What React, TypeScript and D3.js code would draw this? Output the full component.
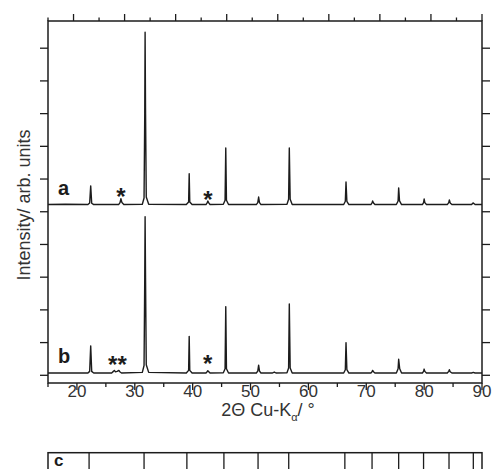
import * as d3 from "d3";

// --- data (2-theta in degrees, intensity in axis units) ---
const traceA: [number, number][] = [
  [15.0, 5.22], [18.0, 5.23], [21.9, 5.22],
  [22.2, 5.27], [22.38, 5.79], [22.55, 5.26], [22.9, 5.22],
  [27.2, 5.22], [27.45, 5.28], [27.6, 5.4], [27.78, 5.28], [28.1, 5.22],
  [31.3, 5.23], [31.6, 5.42], [31.72, 8.0], [31.78, 10.49], [31.85, 8.2], [31.98, 5.45], [32.4, 5.23],
  [38.9, 5.22], [39.3, 5.3], [39.4, 6.16], [39.5, 5.3], [39.9, 5.22],
  [42.3, 5.22], [42.5, 5.27], [42.62, 5.33], [42.78, 5.27], [43.0, 5.22],
  [45.3, 5.23], [45.6, 5.35], [45.72, 6.95], [45.84, 5.35], [46.2, 5.22],
  [51.0, 5.22], [51.25, 5.28], [51.4, 5.45], [51.55, 5.28], [51.8, 5.22],
  [56.3, 5.23], [56.58, 5.38], [56.7, 6.95], [56.85, 5.38], [57.2, 5.22],
  [66.1, 5.22], [66.38, 5.32], [66.5, 5.91], [66.65, 5.32], [67.0, 5.22],
  [70.8, 5.22], [71.0, 5.27], [71.1, 5.33], [71.25, 5.27], [71.5, 5.22],
  [75.2, 5.22], [75.5, 5.33], [75.6, 5.73], [75.75, 5.33], [76.1, 5.22],
  [79.7, 5.22], [79.9, 5.28], [80.0, 5.39], [80.12, 5.28], [80.4, 5.22],
  [84.0, 5.22], [84.25, 5.28], [84.36, 5.36], [84.5, 5.27], [84.8, 5.22],
  [88.2, 5.22], [88.45, 5.27], [88.6, 5.25], [88.8, 5.22],
  [90.0, 5.22],
];

const traceB: [number, number][] = [
  [15.0, 0.07], [21.9, 0.07],
  [22.2, 0.12], [22.38, 0.9], [22.55, 0.12], [22.9, 0.07],
  [26.0, 0.07], [26.3, 0.12], [26.45, 0.15], [26.65, 0.11], [26.95, 0.12], [27.25, 0.15], [27.4, 0.11], [27.7, 0.07],
  [31.3, 0.09], [31.6, 0.3], [31.72, 3.0], [31.78, 4.85], [31.85, 3.1], [31.98, 0.32], [32.4, 0.09],
  [38.9, 0.07], [39.3, 0.15], [39.4, 1.19], [39.5, 0.15], [39.9, 0.07],
  [42.3, 0.07], [42.5, 0.11], [42.62, 0.14], [42.78, 0.11], [43.0, 0.07],
  [45.3, 0.08], [45.6, 0.2], [45.72, 2.1], [45.84, 0.2], [46.2, 0.07],
  [51.0, 0.07], [51.25, 0.13], [51.4, 0.31], [51.55, 0.13], [51.8, 0.07],
  [53.8, 0.07], [54.1, 0.1], [54.4, 0.07],
  [56.3, 0.08], [56.58, 0.22], [56.7, 2.18], [56.85, 0.22], [57.2, 0.07],
  [66.1, 0.07], [66.38, 0.17], [66.5, 1.0], [66.65, 0.17], [67.0, 0.07],
  [70.8, 0.07], [71.0, 0.11], [71.1, 0.15], [71.25, 0.11], [71.5, 0.07],
  [75.2, 0.07], [75.5, 0.2], [75.6, 0.49], [75.78, 0.2], [76.1, 0.07],
  [79.7, 0.07], [79.9, 0.12], [80.0, 0.19], [80.12, 0.12], [80.4, 0.07],
  [84.0, 0.07], [84.25, 0.12], [84.36, 0.17], [84.5, 0.11], [84.8, 0.07],
  [88.2, 0.07], [88.5, 0.09], [88.8, 0.07],
  [90.0, 0.07],
];

// reference line positions for panel c
const refLines = [22.1, 31.6, 39.0, 45.4, 51.3, 56.6, 66.3, 71.0, 75.6, 79.9, 84.3, 88.5];

// annotations: [2theta, intensity-level, text]
const labelsA: [number, number, string][] = [[27.6, 5.3, "*"], [42.65, 5.2, "*"]];
const labelsB: [number, number, string][] = [[27.0, 0.15, "**"], [42.6, 0.2, "*"]];

const xMajor = [20, 30, 40, 50, 60, 70, 80, 90];
const xMinor = [15, 25, 35, 45, 55, 65, 75, 85];
const yTicks = [0, 1, 2, 3, 4, 5, 6, 7, 8, 9, 10];
const topTicks = d3.range(0, 18);

const FONT = "'Liberation Sans', Arial, sans-serif";
const INK = "#1c1c1c";

export default function App() {
  const W = 493, H = 469;
  const m = { left: 48, right: 482, top: 21, bottom: 383 };

  const x = d3.scaleLinear().domain([15, 90]).range([m.left, m.right]);
  const y = d3.scaleLinear().domain([0, 10]).range([375.3, 48.2]);
  const xTop = d3.scaleLinear().domain([0, 17]).range([m.left, m.right]);

  const line = d3.line<[number, number]>()
    .x(d => x(d[0]))
    .y(d => y(d[1]));

  const cTop = 452.7;

  return (
    <svg width={W} height={H} style={{ position: "absolute", left: 0, top: 0, background: "#fff" }}
      fontFamily={FONT}>
      {/* frame */}
      <rect x={m.left} y={m.top} width={m.right - m.left} height={m.bottom - m.top}
        fill="none" stroke={INK} strokeWidth={1.5} />

      {/* top ticks */}
      {topTicks.map(t => (
        <line key={"tt" + t} x1={xTop(t)} x2={xTop(t)} y1={m.top} y2={m.top - (t % 2 ? 7 : 3.5)}
          stroke={INK} strokeWidth={1.3} />
      ))}

      {/* left / right ticks */}
      {yTicks.map(t => (
        <g key={"yt" + t}>
          <line x1={m.left - 8} x2={m.left} y1={y(t)} y2={y(t)} stroke={INK} strokeWidth={1.3} />
          <line x1={m.right} x2={m.right + 8} y1={y(t)} y2={y(t)} stroke={INK} strokeWidth={1.3} />
        </g>
      ))}

      {/* bottom ticks + labels */}
      {xMinor.map(t => (
        <line key={"xm" + t} x1={x(t)} x2={x(t)} y1={m.bottom} y2={m.bottom + 4} stroke={INK} strokeWidth={1.3} />
      ))}
      {xMajor.map(t => (
        <g key={"xM" + t}>
          <line x1={x(t)} x2={x(t)} y1={m.bottom} y2={m.bottom + 7} stroke={INK} strokeWidth={1.3} />
          <text x={x(t)} y={397} textAnchor="middle" fontSize={17} fill="#333">{t}</text>
        </g>
      ))}

      {/* axis titles */}
      <text x={268} y={416} textAnchor="middle" fontSize={18} fill="#333">
        2Θ Cu-K<tspan fontSize={11} dy={5}>α</tspan><tspan dy={-5}>/ °</tspan>
      </text>
      <text transform={`translate(30,${205})rotate(-90)`} textAnchor="middle" fontSize={18} fill="#333">
        Intensity/ arb. units
      </text>

      {/* traces */}
      <path d={line(traceA) ?? ""} fill="none" stroke={INK} strokeWidth={1.4} strokeLinejoin="round" />
      <path d={line(traceB) ?? ""} fill="none" stroke={INK} strokeWidth={1.4} strokeLinejoin="round" />

      {/* trace letters and markers */}
      <text x={58} y={195} fontSize={20} fontWeight="bold" fill={INK}>a</text>
      <text x={58} y={363} fontSize={20} fontWeight="bold" fill={INK}>b</text>
      {labelsA.map(([p, v, s], i) => (
        <text key={"la" + i} x={x(p)} y={y(v) + 3} textAnchor="middle" fontSize={24} fontWeight="bold" fill={INK}>{s}</text>
      ))}
      {labelsB.map(([p, v, s], i) => (
        <text key={"lb" + i} x={x(p)} y={y(v) + 3} textAnchor="middle" fontSize={24} fontWeight="bold" fill={INK}>{s}</text>
      ))}

      {/* panel c */}
      <rect x={m.left} y={cTop} width={m.right - m.left} height={40} fill="none" stroke={INK} strokeWidth={1.5} />
      {refLines.map(p => (
        <line key={"rl" + p} x1={x(p)} x2={x(p)} y1={cTop} y2={H} stroke={INK} strokeWidth={1.3} />
      ))}
      <text x={54} y={466} fontSize={17} fontWeight="bold" fill={INK}>c</text>
    </svg>
  );
}
